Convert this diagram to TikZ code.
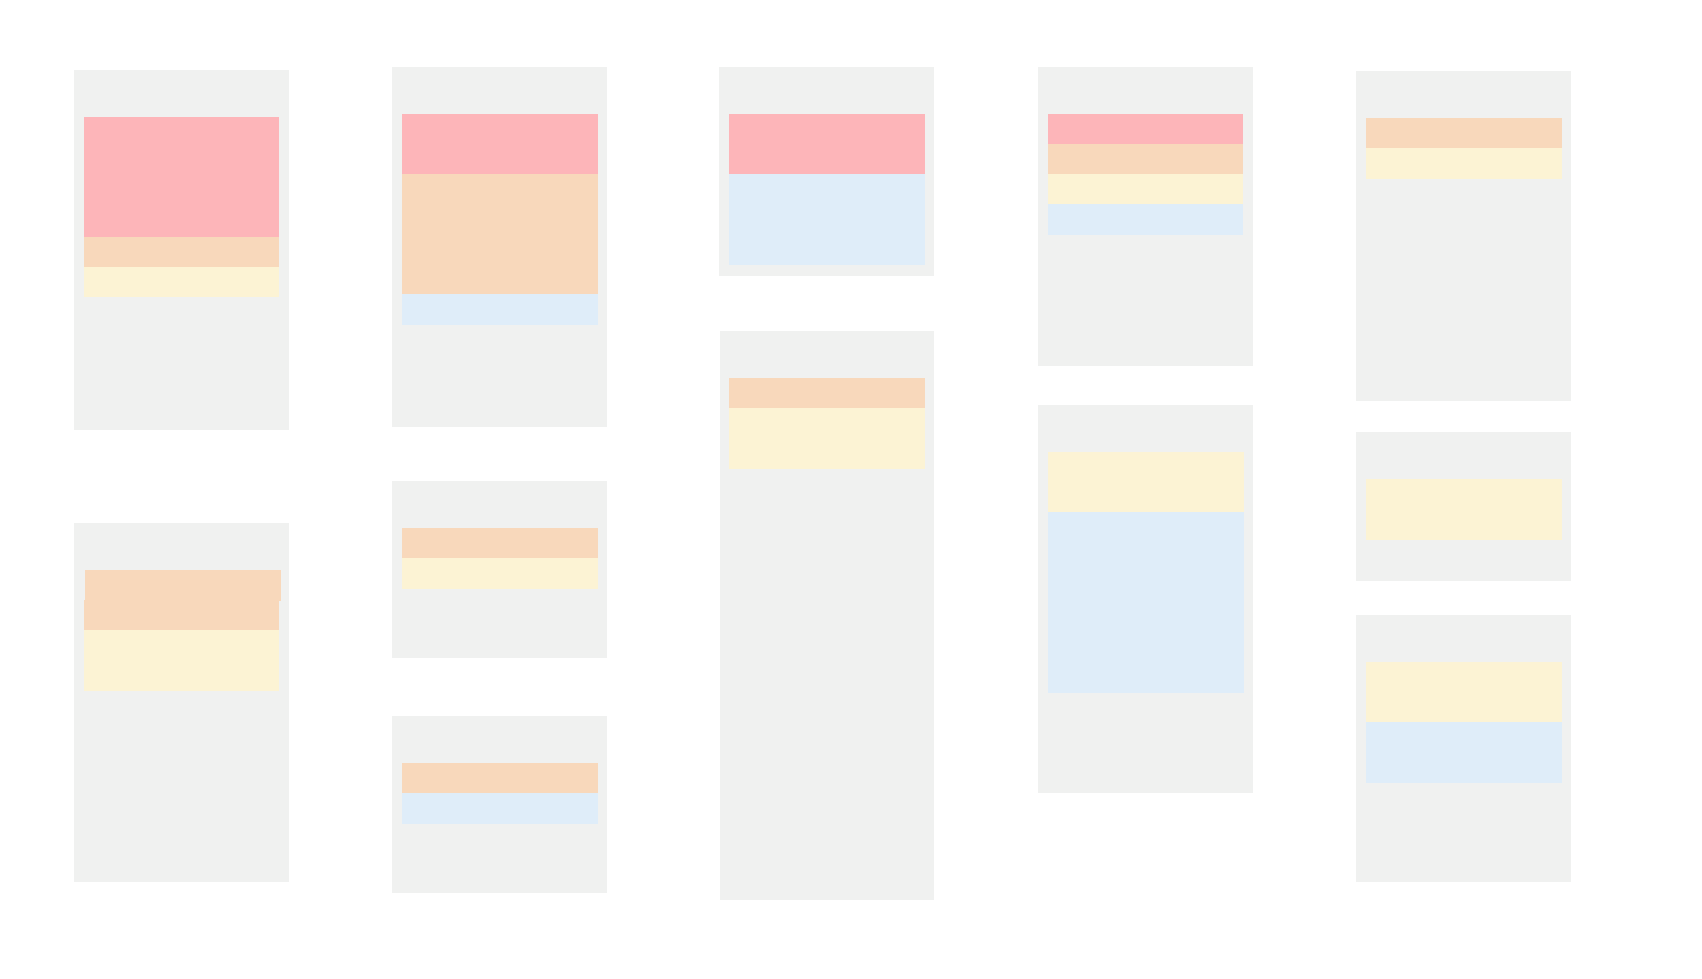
\documentclass[tikz,border=0pt]{standalone}
\definecolor{panelgrey}{RGB}{240,241,240}
\definecolor{barred}{RGB}{253,181,185}
\definecolor{barorange}{RGB}{248,216,187}
\definecolor{baryellow}{RGB}{252,243,212}
\definecolor{barblue}{RGB}{223,237,249}
\begin{document}
\begin{tikzpicture}[x=0.02cm,y=-0.02cm,
  panel/.style={fill=panelgrey,draw=none},
  rbar/.style={fill=barred,draw=none},
  obar/.style={fill=barorange,draw=none},
  ybar/.style={fill=baryellow,draw=none},
  bbar/.style={fill=barblue,draw=none}]
\useasboundingbox[fill=white] (0,0) rectangle (1702,978);
% column 1
\fill[panel] (74,70) rectangle (289,430);
\fill[rbar] (84,117) rectangle (279,237);
\fill[obar] (84,237) rectangle (279,267);
\fill[ybar] (84,267) rectangle (279,297);
\fill[panel] (74,523) rectangle (289,882);
\fill[obar] (85,570) rectangle (281,601);
\fill[obar] (84,600) rectangle (279,630);
\fill[ybar] (84,630) rectangle (279,691);
% column 2
\fill[panel] (392,67) rectangle (607,427);
\fill[rbar] (402,114) rectangle (598,174);
\fill[obar] (402,174) rectangle (598,294);
\fill[bbar] (402,294) rectangle (598,325);
\fill[panel] (392,481) rectangle (607,658);
\fill[obar] (402,528) rectangle (598,558);
\fill[ybar] (402,558) rectangle (598,589);
\fill[panel] (392,716) rectangle (607,893);
\fill[obar] (402,763) rectangle (598,793);
\fill[bbar] (402,793) rectangle (598,824);
% column 3
\fill[panel] (719,67) rectangle (934,276);
\fill[rbar] (729,114) rectangle (925,174);
\fill[bbar] (729,174) rectangle (925,265);
\fill[panel] (720,331) rectangle (934,900);
\fill[obar] (729,378) rectangle (925,408);
\fill[ybar] (729,408) rectangle (925,469);
% column 4
\fill[panel] (1038,67) rectangle (1253,366);
\fill[rbar] (1048,114) rectangle (1243,144);
\fill[obar] (1048,144) rectangle (1243,174);
\fill[ybar] (1048,174) rectangle (1243,204);
\fill[bbar] (1048,204) rectangle (1243,235);
\fill[panel] (1038,405) rectangle (1253,793);
\fill[ybar] (1048,452) rectangle (1244,512);
\fill[bbar] (1048,512) rectangle (1244,693);
% column 5
\fill[panel] (1356,71) rectangle (1571,401);
\fill[obar] (1366,118) rectangle (1562,148);
\fill[ybar] (1366,148) rectangle (1562,179);
\fill[panel] (1356,432) rectangle (1571,581);
\fill[ybar] (1366,479) rectangle (1562,540);
\fill[panel] (1356,615) rectangle (1571,882);
\fill[ybar] (1366,662) rectangle (1562,722);
\fill[bbar] (1366,722) rectangle (1562,783);
\end{tikzpicture}
\end{document}
